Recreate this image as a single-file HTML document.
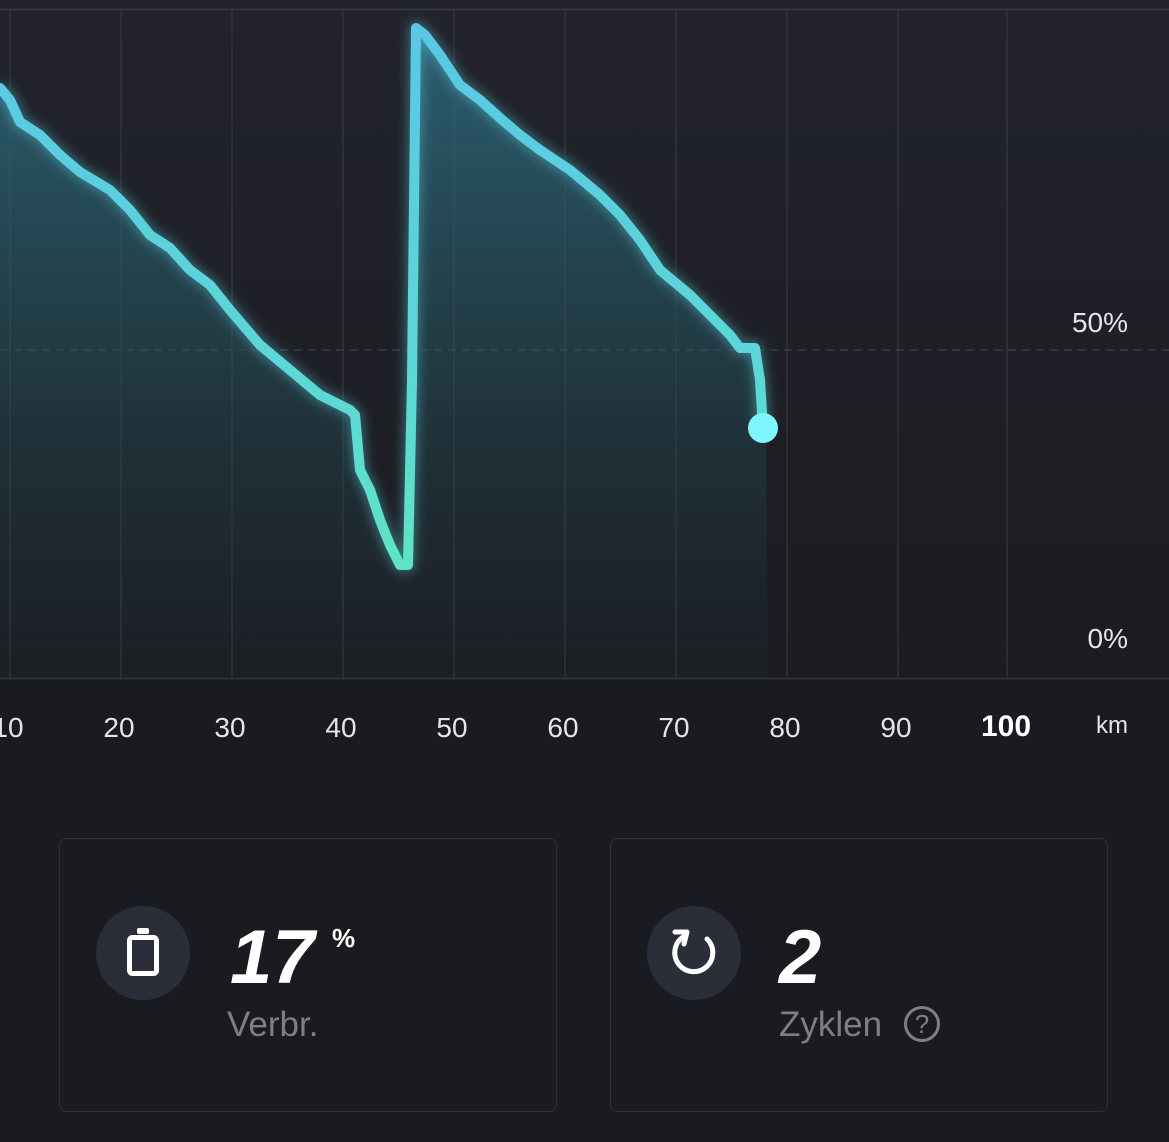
<!DOCTYPE html>
<html><head><meta charset="utf-8"><style>
html,body{margin:0;padding:0;background:#1a1b20;width:1169px;height:1142px;overflow:hidden;font-family:"Liberation Sans",sans-serif}
.card{position:absolute;top:838px;width:498px;height:274px;border:1.5px solid #2e3038;border-radius:8px;background:#1a1b20;box-sizing:border-box}
.ic{position:absolute;left:36px;top:67px;width:94px;height:94px;border-radius:50%;background:#2b2e39}
.big{position:absolute;color:#fff;font-size:76px;font-style:italic;font-weight:bold;top:75px}
.lab{position:absolute;color:#7c7f88;font-size:35px;top:166px}
</style></head><body>
<svg width="1169" height="800" style="position:absolute;left:0;top:0">
<defs>
<linearGradient id="bg" x1="0" y1="0" x2="0" y2="1"><stop offset="0" stop-color="#22232c"/><stop offset="1" stop-color="#1b1c21"/></linearGradient>
<linearGradient id="fill" gradientUnits="userSpaceOnUse" x1="0" y1="30" x2="0" y2="678"><stop offset="0" stop-color="#2e6e84" stop-opacity="0.8"/><stop offset="0.5" stop-color="#24505a" stop-opacity="0.55"/><stop offset="1" stop-color="#1f3238" stop-opacity="0.15"/></linearGradient>
<linearGradient id="ln" x1="0" y1="0" x2="0" y2="1"><stop offset="0" stop-color="#5ac8e4"/><stop offset="0.6" stop-color="#5cd6d8"/><stop offset="1" stop-color="#5ee4c4"/></linearGradient>
<filter id="gl" x="-10%" y="-10%" width="120%" height="120%"><feGaussianBlur stdDeviation="6"/></filter>
</defs>
<rect x="0" y="0" width="1169" height="678" fill="url(#bg)"/>
<line x1="0" y1="9.5" x2="1169" y2="9.5" stroke="#33353f" stroke-width="2"/>
<g stroke="#30323c" stroke-width="1.5">
<line x1="10" y1="10" x2="10" y2="678"/><line x1="121" y1="10" x2="121" y2="678"/><line x1="232" y1="10" x2="232" y2="678"/><line x1="343" y1="10" x2="343" y2="678"/><line x1="454" y1="10" x2="454" y2="678"/><line x1="565" y1="10" x2="565" y2="678"/><line x1="676" y1="10" x2="676" y2="678"/><line x1="787" y1="10" x2="787" y2="678"/><line x1="898" y1="10" x2="898" y2="678"/><line x1="1007" y1="10" x2="1007" y2="678"/>
</g>
<line x1="0" y1="350" x2="1169" y2="350" stroke="#3a3c46" stroke-width="1.5" stroke-dasharray="8 6"/>
<line x1="0" y1="678.5" x2="1169" y2="678.5" stroke="#2e3038" stroke-width="2"/>
<path d="M0,88 L10,100 L20,122 L40,135 L60,155 L80,172 L110,190 L130,210 L150,235 L170,248 L190,270 L210,285 L230,310 L260,345 L290,370 L320,395 L350,410 L355,415 L360,470 L370,490 L380,520 L390,545 L400,565 L408,565 L412,380 L416,28 L425,35 L440,55 L460,85 L480,100 L500,118 L520,135 L540,150 L570,170 L600,195 L620,215 L640,240 L660,270 L690,295 L710,315 L730,335 L740,348 L755,348 L760,380 L766,428 L768,678 L0,678 Z" fill="url(#fill)"/>
<path d="M0,88 L10,100 L20,122 L40,135 L60,155 L80,172 L110,190 L130,210 L150,235 L170,248 L190,270 L210,285 L230,310 L260,345 L290,370 L320,395 L350,410 L355,415 L360,470 L370,490 L380,520 L390,545 L400,565 L408,565 L412,380 L416,28 L425,35 L440,55 L460,85 L480,100 L500,118 L520,135 L540,150 L570,170 L600,195 L620,215 L640,240 L660,270 L690,295 L710,315 L730,335 L740,348 L755,348 L760,380 L763,428" fill="none" stroke="#5ad4e0" stroke-width="12" stroke-opacity="0.5" filter="url(#gl)" stroke-linejoin="round"/>
<path d="M0,88 L10,100 L20,122 L40,135 L60,155 L80,172 L110,190 L130,210 L150,235 L170,248 L190,270 L210,285 L230,310 L260,345 L290,370 L320,395 L350,410 L355,415 L360,470 L370,490 L380,520 L390,545 L400,565 L408,565 L412,380 L416,28 L425,35 L440,55 L460,85 L480,100 L500,118 L520,135 L540,150 L570,170 L600,195 L620,215 L640,240 L660,270 L690,295 L710,315 L730,335 L740,348 L755,348 L760,380 L763,428" fill="none" stroke="url(#ln)" stroke-width="10" stroke-linejoin="round" stroke-linecap="round"/>
<circle cx="763" cy="428" r="15" fill="#7ef5ff"/>
<g fill="#e4e5ea" font-size="28" font-family="Liberation Sans">
<text x="1128" y="332" text-anchor="end">50%</text>
<text x="1128" y="648" text-anchor="end">0%</text>
<g text-anchor="middle">
<text x="8" y="737">10</text><text x="119" y="737">20</text><text x="230" y="737">30</text><text x="341" y="737">40</text><text x="452" y="737">50</text><text x="563" y="737">60</text><text x="674" y="737">70</text><text x="785" y="737">80</text><text x="896" y="737">90</text>
<text x="1006" y="736" font-weight="bold" font-size="30" fill="#fff">100</text>
<text x="1112" y="733" font-size="24">km</text>
</g></g>
</svg>
<div class="card" style="left:59px">
<div class="ic"><svg width="94" height="94"><rect x="33.5" y="31.5" width="27" height="36" rx="3" fill="none" stroke="#fff" stroke-width="5"/><rect x="41" y="22" width="12" height="6" rx="2" fill="#fff"/></svg></div>
<div class="big" style="left:170px">17</div>
<div style="position:absolute;left:272px;top:84px;color:#fff;font-size:26px;font-weight:bold">%</div>
<div class="lab" style="left:167px">Verbr.</div>
</div>
<div class="card" style="left:610px">
<div class="ic"><svg width="94" height="94"><path d="M36,31 A19,19 0 1 0 60,33" fill="none" stroke="#fff" stroke-width="5" stroke-linecap="round"/><path d="M28,26 L40,26 L37,38" fill="none" stroke="#fff" stroke-width="5" stroke-linejoin="round" stroke-linecap="round"/></svg></div>
<div class="big" style="left:168px">2</div>
<div class="lab" style="left:168px">Zyklen</div>
<div style="position:absolute;left:293px;top:167px;width:36px;height:36px;border:3px solid #7c7f88;border-radius:50%;box-sizing:border-box;color:#7c7f88;font-size:26px;text-align:center;line-height:31px">?</div>
</div>
</body></html>
